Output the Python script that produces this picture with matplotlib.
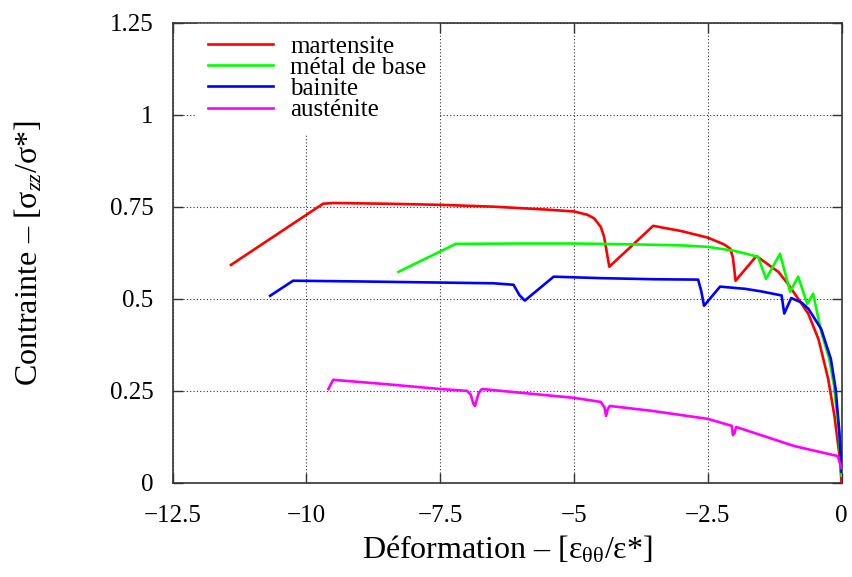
import matplotlib
matplotlib.use("Agg")
import matplotlib.pyplot as plt

plt.rcParams['font.family'] = ['Liberation Serif', 'DejaVu Serif']
plt.rcParams['mathtext.fontset'] = 'custom'
plt.rcParams['mathtext.rm'] = 'Liberation Serif'
plt.rcParams['mathtext.it'] = 'Liberation Serif:italic'

# ---- data ----
labels = ["martensite", "métal de base", "bainite", "austénite"]
colors = ["#ff0000", "#00ff00", "#0000ff", "#ff00ff"]

mart_x = [-11.41, -9.69, -9.5, -8.5, -7.5, -6.5, -5.5, -5.0, -4.75, -4.62, -4.5,
          -4.44, -4.38, -4.34, -3.52, -3.3, -3.0, -2.5, -2.2, -2.08, -2.03, -1.98,
          -1.59, -1.4, -1.18, -1.0, -0.81, -0.62, -0.43, -0.25, -0.13, -0.03, 0.0]
mart_y = [0.592, 0.758, 0.760, 0.758, 0.755, 0.750, 0.742, 0.737, 0.728, 0.718, 0.695,
          0.67, 0.62, 0.587, 0.698, 0.692, 0.684, 0.666, 0.648, 0.636, 0.612, 0.549,
          0.616, 0.596, 0.573, 0.540, 0.500, 0.459, 0.39, 0.283, 0.18, 0.065, 0.0]

base_x = [-8.28, -7.21, -6.0, -5.0, -4.0, -3.0, -2.5, -2.0, -1.56, -1.41, -1.15,
          -0.96, -0.81, -0.64, -0.53, -0.38, -0.23, -0.14, -0.05, 0.0]
base_y = [0.573, 0.649, 0.650, 0.650, 0.648, 0.645, 0.641, 0.630, 0.614, 0.554, 0.622,
          0.519, 0.560, 0.486, 0.514, 0.41, 0.337, 0.264, 0.138, 0.02]

bain_x = [-10.68, -10.45, -10.25, -9.0, -7.5, -6.5, -6.13, -6.02, -5.92, -5.38, -4.5,
          -3.5, -2.68, -2.62, -2.57, -2.27, -1.8, -1.5, -1.12, -1.07, -0.94, -0.75,
          -0.62, -0.38, -0.2, -0.11, -0.04, 0.0]
bain_y = [0.508, 0.53, 0.549, 0.547, 0.544, 0.542, 0.538, 0.51, 0.495, 0.560, 0.556,
          0.553, 0.552, 0.52, 0.481, 0.533, 0.527, 0.52, 0.509, 0.46, 0.502, 0.49,
          0.473, 0.418, 0.337, 0.255, 0.138, 0.03]

aust_x = [-9.59, -9.52, -9.5, -8.5, -7.5, -7.0, -6.93, -6.88, -6.85, -6.78, -6.72,
          -5.5, -5.0, -4.5, -4.43, -4.40, -4.37, -4.33, -3.56, -2.5, -2.05, -2.03,
          -2.0, -1.97, -0.88, -0.07, 0.0]
aust_y = [0.255, 0.275, 0.28, 0.268, 0.255, 0.250, 0.24, 0.215, 0.209, 0.245, 0.255,
          0.238, 0.231, 0.22, 0.205, 0.182, 0.20, 0.209, 0.196, 0.174, 0.155, 0.13,
          0.135, 0.152, 0.1, 0.073, 0.04]

xticks = [-12.5, -10, -7.5, -5, -2.5, 0]
xticklabels = ["\u221212.5", "\u221210", "\u22127.5", "\u22125", "\u22122.5", "0"]
yticks = [0, 0.25, 0.5, 0.75, 1, 1.25]
yticklabels = ["0", "0.25", "0.5", "0.75", "1", "1.25"]

series = [(mart_x, mart_y), (base_x, base_y), (bain_x, bain_y), (aust_x, aust_y)]

fig = plt.figure(figsize=(8.52, 5.77), dpi=100)
ax = fig.add_axes([0.2027, 0.163, 0.785, 0.798])

for (xs, ys), lab, col in zip(series, labels, colors):
    ax.plot(xs, ys, color=col, lw=1.9, label=lab, zorder=3)

ax.set_xlim(-12.5, 0)
ax.set_ylim(0, 1.25)
ax.set_xticks(xticks)
ax.set_xticklabels(xticklabels)
ax.set_yticks(yticks)
ax.set_yticklabels(yticklabels)
ax.tick_params(direction='in', length=7, width=1.0, top=True, right=True,
               labelsize=18, color='#333333')
ax.tick_params(axis='x', pad=16)
ax.tick_params(axis='y', pad=14)
ax.grid(True, linestyle=(0, (1, 2)), color='#333333', linewidth=0.8)
for s in ax.spines.values():
    s.set_linewidth(1.2)
    s.set_color('#333333')

ax.set_xlabel(r"Déformation – [$\mathregular{ε_{θθ}}$/ε*]", fontsize=23, labelpad=5)
ax.set_ylabel(r"Contrainte – [$\mathregular{σ_{\mathit{zz}}}$/σ*]", fontsize=23, labelpad=47)

leg = ax.legend(loc='upper left', bbox_to_anchor=(0.034, 1.0), fontsize=18,
                frameon=True, fancybox=False, edgecolor='white', framealpha=1.0,
                handlelength=2.6, handletextpad=0.7, labelspacing=-0.05,
                borderpad=0.45, borderaxespad=0.05)
leg.set_zorder(5)
for h in leg.get_lines():
    h.set_linewidth(1.9)

fig.savefig("out.png", dpi=100)
